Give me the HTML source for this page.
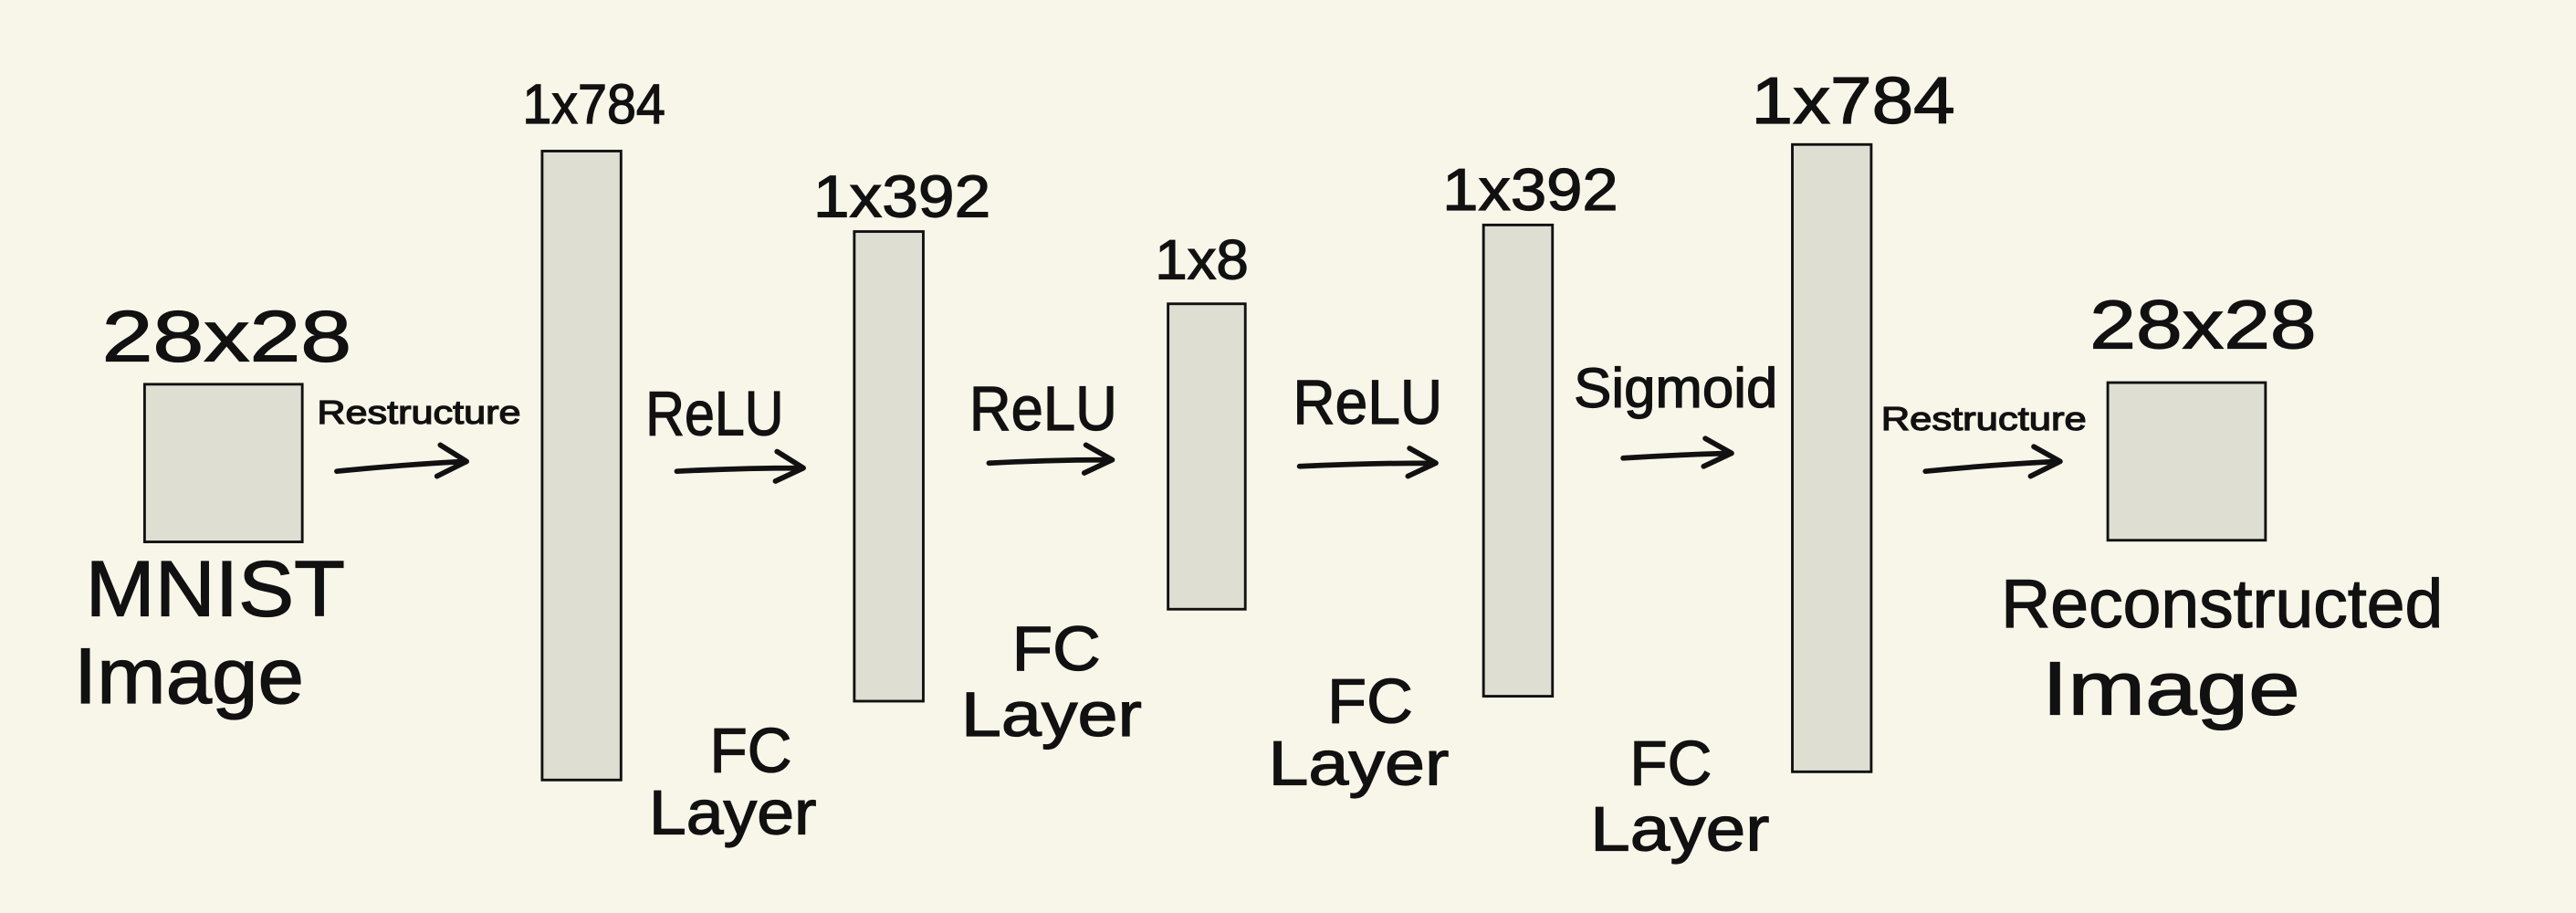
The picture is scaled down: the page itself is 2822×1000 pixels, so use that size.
<!DOCTYPE html>
<html>
<head>
<meta charset="utf-8">
<style>
  html,body{margin:0;padding:0;background:#f8f6e9;}
  svg{display:block;}
  text{font-family:"Liberation Sans",sans-serif;fill:#111;stroke:#111;stroke-width:0.7;}
  .box{fill:#dfded3;stroke:#111;stroke-width:1.6;}
  .arr{fill:none;stroke:#111;stroke-width:3.2;stroke-linecap:round;stroke-linejoin:round;}
</style>
</head>
<body>
<svg width="2822" height="1000" viewBox="0 0 1568 556" preserveAspectRatio="none">
  <rect x="0" y="0" width="1568" height="556" fill="#f8f6e9"/>

  <rect class="box" x="88" y="234" width="96" height="96"/>
  <rect class="box" x="330" y="92" width="48" height="383"/>
  <rect class="box" x="520" y="141" width="42" height="286"/>
  <rect class="box" x="711" y="185" width="47" height="186"/>
  <rect class="box" x="903" y="137" width="42" height="287"/>
  <rect class="box" x="1091" y="88" width="48" height="382"/>
  <rect class="box" x="1283" y="233" width="96" height="96"/>

  <text x="62" y="220" font-size="44" textLength="152" lengthAdjust="spacingAndGlyphs">28x28</text>
  <text x="318" y="75" font-size="34" textLength="87" lengthAdjust="spacingAndGlyphs">1x784</text>
  <text x="495" y="132" font-size="36" textLength="108" lengthAdjust="spacingAndGlyphs">1x392</text>
  <text x="703" y="170" font-size="34" textLength="57" lengthAdjust="spacingAndGlyphs">1x8</text>
  <text x="878" y="128" font-size="36" textLength="107" lengthAdjust="spacingAndGlyphs">1x392</text>
  <text x="1066" y="75" font-size="40" textLength="124" lengthAdjust="spacingAndGlyphs">1x784</text>
  <text x="1272" y="212" font-size="42" textLength="138" lengthAdjust="spacingAndGlyphs">28x28</text>

  <text x="193" y="258" font-size="20" textLength="124" lengthAdjust="spacingAndGlyphs">Restructure</text>
  <text x="393" y="265" font-size="38" textLength="84" lengthAdjust="spacingAndGlyphs">ReLU</text>
  <text x="590" y="262" font-size="38" textLength="90" lengthAdjust="spacingAndGlyphs">ReLU</text>
  <text x="787" y="258" font-size="38" textLength="91" lengthAdjust="spacingAndGlyphs">ReLU</text>
  <text x="958" y="248" font-size="34" textLength="124" lengthAdjust="spacingAndGlyphs">Sigmoid</text>
  <text x="1145" y="262" font-size="20" textLength="125" lengthAdjust="spacingAndGlyphs">Restructure</text>

  <g><path class="arr" d="M205 287 Q245 283 283 281 M268 271 L284 281 L266 290"/></g>
  <g><path class="arr" d="M412 287 Q450 285 488 285 M473 275 L489 285 L472 293"/></g>
  <g><path class="arr" d="M602 282 Q640 280 676 280 M661 271 L677 280 L660 288"/></g>
  <g><path class="arr" d="M791 284 Q833 282 873 282 M858 273 L874 282 L857 290"/></g>
  <g><path class="arr" d="M988 279 Q1020 277 1053 276 M1038 267 L1054 276 L1037 284"/></g>
  <g><path class="arr" d="M1172 287 Q1212 283 1253 281 M1238 272 L1254 281 L1236 290"/></g>

  <text x="52" y="375" font-size="48" textLength="158" lengthAdjust="spacingAndGlyphs">MNIST</text>
  <text x="45" y="428" font-size="48" textLength="140" lengthAdjust="spacingAndGlyphs">Image</text>

  <text x="432" y="470" font-size="38" textLength="50" lengthAdjust="spacingAndGlyphs">FC</text>
  <text x="395" y="508" font-size="38" textLength="102" lengthAdjust="spacingAndGlyphs">Layer</text>
  <text x="616" y="408" font-size="38" textLength="54" lengthAdjust="spacingAndGlyphs">FC</text>
  <text x="585" y="448" font-size="38" textLength="110" lengthAdjust="spacingAndGlyphs">Layer</text>
  <text x="808" y="440" font-size="38" textLength="52" lengthAdjust="spacingAndGlyphs">FC</text>
  <text x="772" y="478" font-size="38" textLength="110" lengthAdjust="spacingAndGlyphs">Layer</text>
  <text x="992" y="478" font-size="38" textLength="50" lengthAdjust="spacingAndGlyphs">FC</text>
  <text x="968" y="518" font-size="38" textLength="109" lengthAdjust="spacingAndGlyphs">Layer</text>

  <text x="1218" y="382" font-size="42" textLength="269" lengthAdjust="spacingAndGlyphs">Reconstructed</text>
  <text x="1243" y="435" font-size="46" textLength="157" lengthAdjust="spacingAndGlyphs">Image</text>
</svg>
</body>
</html>
